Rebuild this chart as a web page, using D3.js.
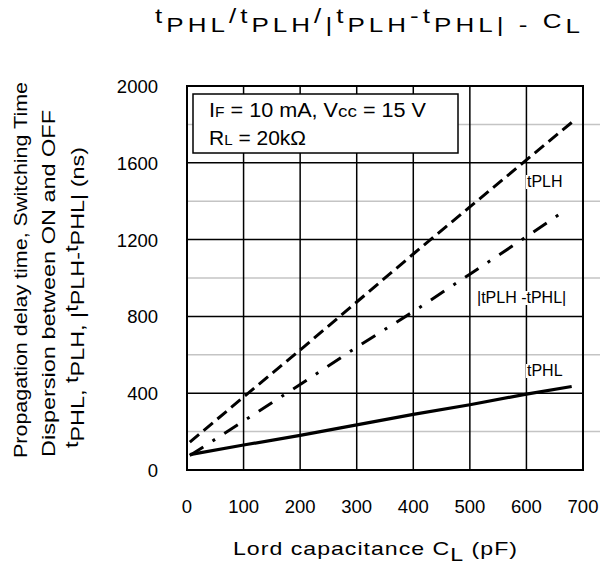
<!DOCTYPE html>
<html><head><meta charset="utf-8">
<script src="https://cdn.jsdelivr.net/npm/d3@7"></script>
<style>body{margin:0;background:#fff}svg{display:block;font-family:Arial,"Liberation Sans",sans-serif}</style>
</head><body>
<script>
// ---- data ----
const capacitance = [5, 100, 200, 300, 400, 500, 600, 680];
const tPLH = [145, 380, 625, 875, 1125, 1370, 1615, 1810];
const tPHL = [80, 130, 180, 235, 290, 340, 395, 435];
const diffCap = [5, 100, 200, 300, 400, 500, 600, 665];
const tDiff = [75, 255, 445, 640, 825, 1020, 1215, 1345];
const xTicks = [0, 100, 200, 300, 400, 500, 600, 700];
const yTicks = [0, 400, 800, 1200, 1600, 2000];
const yMinor = [200, 600, 1000, 1400, 1800];

const W = 600, H = 566;
const svg = d3.select("body").append("svg").attr("width", W).attr("height", H);
const x = d3.scaleLinear().domain([0, 700]).range([187, 583]);
const y = d3.scaleLinear().domain([0, 2000]).range([470, 86]);

// minor gray lines (extend past frame to right edge)
svg.selectAll(".minor").data(yMinor).enter().append("line")
  .attr("x1", x(0)).attr("x2", W).attr("y1", d => y(d)).attr("y2", d => y(d))
  .attr("stroke", "#c4c4c4").attr("stroke-width", 1.5);
// major grid
svg.selectAll(".vg").data(xTicks).enter().append("line")
  .attr("x1", d => x(d)).attr("x2", d => x(d)).attr("y1", y(0)).attr("y2", y(2000))
  .attr("stroke", "#000").attr("stroke-width", 1.5);
svg.selectAll(".hg").data(yTicks).enter().append("line")
  .attr("x1", x(0)).attr("x2", x(700)).attr("y1", d => y(d)).attr("y2", d => y(d))
  .attr("stroke", "#000").attr("stroke-width", 1.5);
svg.append("rect").attr("x", x(0)).attr("y", y(2000)).attr("width", x(700) - x(0)).attr("height", y(0) - y(2000))
  .attr("fill", "none").attr("stroke", "#000").attr("stroke-width", 2);

// condition box
svg.append("rect").attr("x", 193).attr("y", 94).attr("width", 265).attr("height", 59)
  .attr("fill", "#fff").attr("stroke", "#000").attr("stroke-width", 1.5);
const t1 = svg.append("text").attr("x", 209).attr("y", 117).attr("font-size", 19.5)
  .attr("textLength", 217).attr("lengthAdjust", "spacingAndGlyphs");
t1.append("tspan").text("I");
t1.append("tspan").attr("font-size", 14).text("F");
t1.append("tspan").text(" = 10 mA, V");
t1.append("tspan").attr("font-size", 17).text("cc");
t1.append("tspan").text(" = 15 V");
const t2 = svg.append("text").attr("x", 209).attr("y", 145).attr("font-size", 19.5)
  .attr("textLength", 97).attr("lengthAdjust", "spacingAndGlyphs");
t2.append("tspan").text("R");
t2.append("tspan").attr("font-size", 14).text("L");
t2.append("tspan").text(" = 20k\u03A9");

// curves
const line = d3.line().x(d => x(d[0])).y(d => y(d[1]));
svg.append("path").datum(capacitance.map((c, i) => [c, tPLH[i]])).attr("d", line)
  .attr("fill", "none").attr("stroke", "#000").attr("stroke-width", 3).attr("stroke-dasharray", "12,6");
svg.append("path").datum(diffCap.map((c, i) => [c, tDiff[i]])).attr("d", line)
  .attr("fill", "none").attr("stroke", "#000").attr("stroke-width", 3).attr("stroke-dasharray", "16,11,3,11");
svg.append("path").datum(capacitance.map((c, i) => [c, tPHL[i]])).attr("d", line)
  .attr("fill", "none").attr("stroke", "#000").attr("stroke-width", 3.2);

// curve labels with white backgrounds
function label(txt, xx, yy) {
  const g = svg.append("g");
  const t = g.append("text").attr("x", xx).attr("y", yy).attr("font-size", 16).text(txt);
  const b = t.node().getBBox();
  g.insert("rect", "text").attr("x", b.x - 1).attr("y", b.y + 2).attr("width", b.width + 2).attr("height", b.height - 3).attr("fill", "#fff");
}
label("tPLH", 527, 187);
label("|tPLH -tPHL|", 477, 303);
label("tPHL", 527, 376);

// ticks
svg.selectAll(".xt").data(xTicks).enter().append("text")
  .attr("x", d => x(d)).attr("y", 513).attr("text-anchor", "middle").attr("font-size", 18.5).text(d => d);
svg.selectAll(".yt").data(yTicks).enter().append("text")
  .attr("x", 158).attr("y", d => y(d) + 7).attr("text-anchor", "end").attr("font-size", 18.5).text(d => d);

// spaced, horizontally stretched text: fit to target width with letter-spacing
function fitSpacing(t, target, sx) {
  const n = t.text().length;
  const w = t.node().getComputedTextLength();
  t.attr("letter-spacing", Math.max(0, (target / sx - w) / (n - 1)));
}

// title
const TS = 1.3;
const tt = svg.append("text").attr("transform", `translate(155,32) scale(${TS},1)`).attr("font-size", 20);
const parts = [["t", -9], ["PHL", 9], ["/", -9], ["t", 0], ["PLH", 9], ["/", -9], ["|", 9], ["t", -9], ["PLH", 9], ["-", -9], ["t", 0], ["PHL", 9], ["|", 0], [" - ", 0], ["C", -4], ["L", 5]];
parts.forEach(p => tt.append("tspan").attr("dy", p[1]).text(p[0]));
fitSpacing(tt, 425, TS);

// x axis title
const XS = 1.25;
const xt = svg.append("text").attr("transform", `translate(233,555) scale(${XS},1)`).attr("font-size", 18.5);
xt.append("tspan").text("Lord capacitance C");
xt.append("tspan").attr("dy", 6).text("L");
xt.append("tspan").attr("dy", -6).text(" (pF)");
fitSpacing(xt, 284, XS);

// y axis title
function ytitle(xx, yy, len, pieces) {
  const t = svg.append("text").attr("transform", `translate(${xx},${yy}) rotate(-90)`).attr("font-size", 18.5)
    .attr("textLength", len).attr("lengthAdjust", "spacingAndGlyphs");
  pieces.forEach(p => t.append("tspan").attr("dy", p[1]).text(p[0]));
}
ytitle(27, 458, 376, [["Propagation delay time, Switching Time", 0]]);
ytitle(55, 457, 347, [["Dispersion between ON and OFF", 0]]);
ytitle(84, 448, 301, [["t", -6], ["PHL", 6], [", ", 0], ["t", -6], ["PLH", 6], [", |", 0], ["t", -6], ["PLH", 6], ["-", 0], ["t", -6], ["PHL", 6], ["| (ns)", 0]]);
</script>
</body></html>
